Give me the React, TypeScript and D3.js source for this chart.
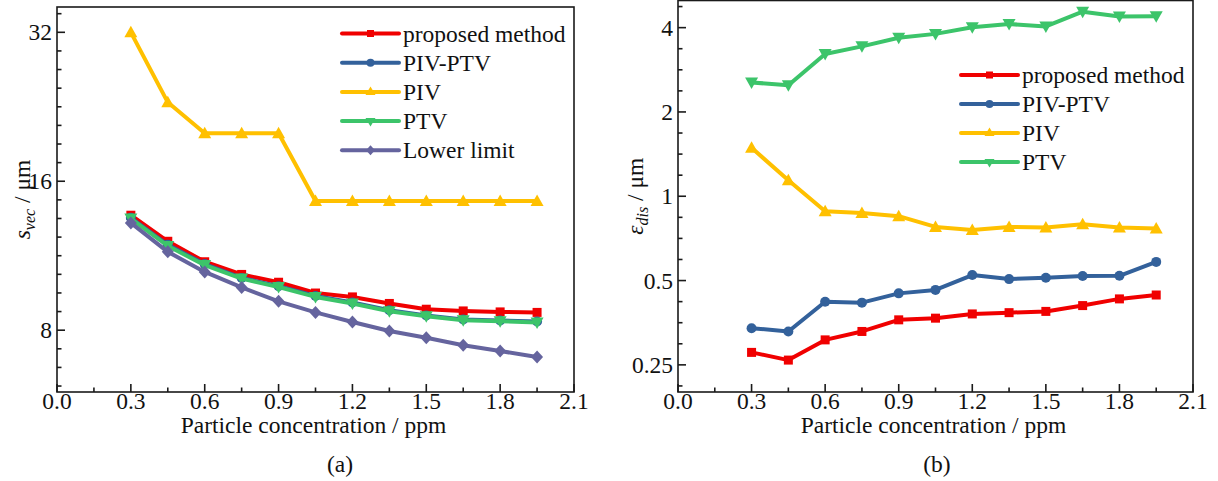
import React from "react";
import * as d3 from "d3";

const xVals = [0.3, 0.45, 0.6, 0.75, 0.9, 1.05, 1.2, 1.35, 1.5, 1.65, 1.8, 1.95];
const xTicks = [0, 0.3, 0.6, 0.9, 1.2, 1.5, 1.8, 2.1];

// (a) s_vec / um
const aProposed = [13.66, 12.1, 11.0, 10.37, 10.0, 9.51, 9.34, 9.06, 8.82, 8.75, 8.71, 8.69];
const aPivPtv = [13.5, 11.9, 10.88, 10.2, 9.82, 9.38, 9.1, 8.78, 8.57, 8.41, 8.37, 8.33];
const aPiv = [32, 23.1, 20.0, 20.0, 20.0, 14.6, 14.6, 14.6, 14.6, 14.6, 14.6, 14.6];
const aPtv = [13.45, 11.84, 10.83, 10.17, 9.78, 9.34, 9.06, 8.74, 8.54, 8.38, 8.34, 8.29];
const aLower = [13.18, 11.52, 10.49, 9.76, 9.15, 8.69, 8.31, 7.97, 7.72, 7.46, 7.26, 7.06];
const aYTicks = [8, 16, 32];

// (b) eps_dis / um
const bProposed = [0.277, 0.26, 0.307, 0.329, 0.362, 0.367, 0.38, 0.384, 0.388, 0.407, 0.43, 0.444];
const bPivPtv = [0.338, 0.329, 0.42, 0.417, 0.45, 0.463, 0.523, 0.506, 0.512, 0.519, 0.52, 0.583];
const bPiv = [1.49, 1.14, 0.884, 0.872, 0.849, 0.777, 0.757, 0.777, 0.773, 0.795, 0.773, 0.767];
const bPtv = [2.55, 2.49, 3.22, 3.43, 3.68, 3.8, 4.01, 4.12, 4.04, 4.56, 4.38, 4.39];
const bYTicks = [0.25, 0.5, 1, 2, 4];

const FONT = "'Liberation Serif', 'Times New Roman', serif";
const AX = "#1a1a1a";

type Series = { name: string; color: string; marker: string; values: number[] };

const colors = {
  red: "#f00000",
  blue: "#33619b",
  yellow: "#ffc000",
  green: "#3cc46a",
  purple: "#65649e",
};

function Marker({ type, x, y, color }: { type: string; x: number; y: number; color: string }) {
  if (type === "square") return <rect x={x - 4.5} y={y - 4.5} width={9} height={9} fill={color} />;
  if (type === "circle") return <circle cx={x} cy={y} r={5} fill={color} />;
  if (type === "up") return <path d={`M${x},${y - 6.5} L${x + 6.5},${y + 5} L${x - 6.5},${y + 5} Z`} fill={color} />;
  if (type === "down") return <path d={`M${x},${y + 6.5} L${x + 6.5},${y - 5} L${x - 6.5},${y - 5} Z`} fill={color} />;
  if (type === "diamond") return <path d={`M${x},${y - 6.5} L${x + 6},${y} L${x},${y + 6.5} L${x - 6},${y} Z`} fill={color} />;
  return null;
}

function LegendMarker({ type, x, y, color }: { type: string; x: number; y: number; color: string }) {
  if (type === "square") return <rect x={x - 3.5} y={y - 3.5} width={7} height={7} fill={color} />;
  if (type === "circle") return <circle cx={x} cy={y} r={4} fill={color} />;
  if (type === "up") return <path d={`M${x},${y - 5.5} L${x + 5},${y + 3} L${x - 5},${y + 3} Z`} fill={color} />;
  if (type === "down") return <path d={`M${x},${y + 5.5} L${x + 5},${y - 3} L${x - 5},${y - 3} Z`} fill={color} />;
  if (type === "diamond") return <path d={`M${x},${y - 5} L${x + 4.5},${y} L${x},${y + 5} L${x - 4.5},${y} Z`} fill={color} />;
  return null;
}

function Panel(props: {
  x0: number; x1: number; yTop: number; yBot: number;
  yDomain: [number, number]; yTicks: number[]; minorPerOctave: number;
  series: Series[]; legendX: number; legendY: number; legendStep: number;
  yLabel: React.ReactNode; yLabelX: number; caption: string; captionX: number;
}) {
  const { x0, x1, yTop, yBot, yDomain, yTicks, minorPerOctave, series } = props;
  const xs = d3.scaleLinear().domain([0, 2.1]).range([x0, x1]);
  const ys = d3.scaleLog().base(2).domain(yDomain).range([yBot, yTop]);
  const line = d3.line<[number, number]>().x((d) => xs(d[0])).y((d) => ys(d[1]));

  const minorX: number[] = [];
  for (let i = 0; i < xTicks.length - 1; i++) minorX.push((xTicks[i] + xTicks[i + 1]) / 2);

  const minorY: number[] = [];
  const lo = Math.log2(yDomain[0]);
  const hi = Math.log2(yDomain[1]);
  for (let k = Math.floor(lo) * minorPerOctave; k <= Math.ceil(hi) * minorPerOctave; k++) {
    if (k % minorPerOctave === 0) continue;
    const v = Math.pow(2, k / minorPerOctave);
    if (v > yDomain[0] && v < yDomain[1]) minorY.push(v);
  }

  const fmtX = d3.format(".1f");
  const fs = 23.5;

  return (
    <g>
      <rect x={x0} y={yTop} width={x1 - x0} height={yBot - yTop} fill="none" stroke={AX} strokeWidth={1.6} />
      {xTicks.map((t) => (
        <g key={"xt" + t}>
          <line x1={xs(t)} x2={xs(t)} y1={yBot} y2={yBot - 8} stroke={AX} strokeWidth={1.6} />
          <text x={xs(t)} y={yBot + 17} textAnchor="middle" fontSize={fs} fontFamily={FONT} fill="#111">{fmtX(t)}</text>
        </g>
      ))}
      {minorX.map((t) => (
        <line key={"xm" + t} x1={xs(t)} x2={xs(t)} y1={yBot} y2={yBot - 4.5} stroke={AX} strokeWidth={1.6} />
      ))}
      {yTicks.map((t) => (
        <g key={"yt" + t}>
          <line x1={x0} x2={x0 + 8} y1={ys(t)} y2={ys(t)} stroke={AX} strokeWidth={1.6} />
          <text x={x0 - 5} y={ys(t) + 8} textAnchor="end" fontSize={fs} fontFamily={FONT} fill="#111">{String(t)}</text>
        </g>
      ))}
      {minorY.map((t) => (
        <line key={"ym" + t} x1={x0} x2={x0 + 4.5} y1={ys(t)} y2={ys(t)} stroke={AX} strokeWidth={1.6} />
      ))}
      <text x={(x0 + x1) / 2 - 2} y={yBot + 41} textAnchor="middle" fontSize={fs} fontFamily={FONT} fill="#111">
        Particle concentration / ppm
      </text>
      <text transform={`translate(${props.yLabelX},${(yTop + yBot) / 2}) rotate(-90)`} textAnchor="middle" fontSize={fs} fontFamily={FONT} fill="#111">
        {props.yLabel}
      </text>
      <text x={props.captionX} y={472} textAnchor="middle" fontSize={fs} fontFamily={FONT} fill="#111">{props.caption}</text>

      {series.map((s) => (
        <g key={s.name}>
          <path d={line(xVals.map((x, i) => [x, s.values[i]] as [number, number])) || ""} fill="none" stroke={s.color} strokeWidth={4} strokeLinejoin="round" strokeLinecap="round" />
          {xVals.map((x, i) => (
            <Marker key={i} type={s.marker} x={xs(x)} y={ys(s.values[i])} color={s.color} />
          ))}
        </g>
      ))}

      {series.map((s, i) => {
        const y = props.legendY + i * props.legendStep;
        const lx = props.legendX;
        return (
          <g key={"lg" + s.name}>
            <line x1={lx} x2={lx + 57} y1={y} y2={y} stroke={s.color} strokeWidth={4} strokeLinecap="round" />
            <LegendMarker type={s.marker} x={lx + 28.5} y={y} color={s.color} />
            <text x={lx + 61} y={y + 8} fontSize={fs} fontFamily={FONT} fill="#111">{s.name}</text>
          </g>
        );
      })}
    </g>
  );
}

export default function App() {
  const seriesA: Series[] = [
    { name: "proposed method", color: colors.red, marker: "square", values: aProposed },
    { name: "PIV-PTV", color: colors.blue, marker: "circle", values: aPivPtv },
    { name: "PIV", color: colors.yellow, marker: "up", values: aPiv },
    { name: "PTV", color: colors.green, marker: "down", values: aPtv },
    { name: "Lower limit", color: colors.purple, marker: "diamond", values: aLower },
  ];
  const seriesB: Series[] = [
    { name: "proposed method", color: colors.red, marker: "square", values: bProposed },
    { name: "PIV-PTV", color: colors.blue, marker: "circle", values: bPivPtv },
    { name: "PIV", color: colors.yellow, marker: "up", values: bPiv },
    { name: "PTV", color: colors.green, marker: "down", values: bPtv },
  ];
  return (
    <svg width={1218} height={481} style={{ position: "absolute", left: 0, top: 0, background: "#fff" }}>
      <rect x={0} y={0} width={1218} height={481} fill="#fff" />
      <Panel
        x0={57} x1={574} yTop={7} yBot={392}
        yDomain={[6, 36]} yTicks={aYTicks} minorPerOctave={8}
        series={seriesA}
        legendX={342} legendY={33.5} legendStep={29.2}
        yLabelX={30}
        yLabel={<>
          <tspan fontStyle="italic">s</tspan>
          <tspan fontStyle="italic" fontSize={16} dy={5}>vec</tspan>
          <tspan dy={-5}> / μm</tspan>
        </>}
        caption="(a)" captionX={340}
      />
      <Panel
        x0={678} x1={1193} yTop={0.5} yBot={392}
        yDomain={[0.2, 5]} yTicks={bYTicks} minorPerOctave={4}
        series={seriesB}
        legendX={961} legendY={75} legendStep={29}
        yLabelX={643}
        yLabel={<>
          <tspan fontStyle="italic">ε</tspan>
          <tspan fontStyle="italic" fontSize={16} dy={5}>dis</tspan>
          <tspan dy={-5}> / μm</tspan>
        </>}
        caption="(b)" captionX={937}
      />
    </svg>
  );
}
